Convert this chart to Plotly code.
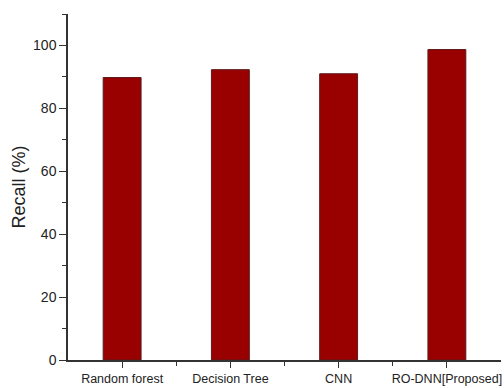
import plotly.graph_objects as go

categories = ["Random forest", "Decision Tree", "CNN", "RO-DNN[Proposed]"]
recall = [89.8, 92.3, 91.0, 98.7]
y_ticks = [0, 20, 40, 60, 80, 100]

xpos = list(range(len(categories)))

fig = go.Figure(go.Bar(
    x=xpos, y=recall, width=0.35,
    marker=dict(color="#990000", line=dict(color="#5a1a1a", width=1)),
))

FONT = "Liberation Sans, Arial, sans-serif"
fig.update_layout(
    width=504, height=388,
    margin=dict(l=68, r=2, t=14, b=25),
    paper_bgcolor="white", plot_bgcolor="white",
    showlegend=False,
    font=dict(family=FONT, color="#222"),
    xaxis=dict(
        range=[-0.5, 3.5], tickmode="array", tickvals=xpos, ticktext=categories,
        ticks="outside", ticklen=6, tickwidth=1.3, tickcolor="#333",
        showline=True, linecolor="#333", linewidth=1.5,
        showgrid=False, zeroline=False, ticklabeloverflow="allow",
        tickfont=dict(size=12.5, family=FONT, color="#222"),
        minor=dict(tickmode="array", tickvals=[0.5, 1.5, 2.5], ticks="outside",
                   ticklen=4, tickwidth=1.3, tickcolor="#333", showgrid=False),
    ),
    yaxis=dict(
        range=[0, 110], tickmode="array", tickvals=y_ticks,
        ticks="outside", ticklen=7, tickwidth=1.3, tickcolor="#333",
        showline=True, linecolor="#333", linewidth=1.5,
        showgrid=False, zeroline=False,
        tickfont=dict(size=14, family=FONT, color="#222"),
        title=dict(text="Recall (%)", font=dict(size=18, family=FONT, color="#222"), standoff=3),
        minor=dict(tickmode="array", tickvals=[10, 30, 50, 70, 90, 110], ticks="outside",
                   ticklen=4, tickwidth=1.3, tickcolor="#333", showgrid=False),
    ),
)

fig.write_html(
    "out.html",
    config={"displayModeBar": False},
    post_script="document.body.style.margin='0';document.body.style.overflow='hidden';"
                "document.documentElement.style.overflow='hidden';",
)
